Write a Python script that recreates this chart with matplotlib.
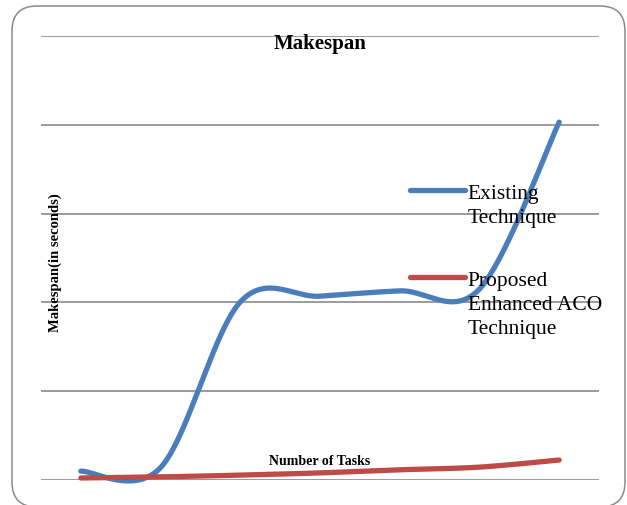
import numpy as np
import matplotlib.pyplot as plt
from matplotlib.patches import FancyBboxPatch
from matplotlib.transforms import IdentityTransform

plt.rcParams['font.family'] = ['Liberation Serif', 'DejaVu Serif']

tasks = [1, 2, 3, 4, 5, 6, 7]
existing = [2.0, 2.8, 40.1, 41.4, 42.6, 43.0, 80.6]
proposed = [0.45, 0.7, 1.1, 1.6, 2.3, 2.9, 4.5]
series_names = ['Existing\nTechnique', 'Proposed\nEnhanced ACO\nTechnique']
series_colors = ['#4a7ebb', '#be4b48']


def smooth(x, y, n=50):
    # spreadsheet-style smoothed line (Catmull-Rom as cubic Bezier)
    px = np.concatenate([[x[0]], x, [x[-1]]]).astype(float)
    py = np.concatenate([[y[0]], y, [y[-1]]]).astype(float)
    t = np.linspace(0, 1, n)
    xs, ys = [], []
    for i in range(1, len(x)):
        for p, out in ((px, xs), (py, ys)):
            p0, p1, p2, p3 = p[i - 1], p[i], p[i + 1], p[i + 2]
            c1 = p1 + (p2 - p0) / 6
            c2 = p2 - (p3 - p1) / 6
            seg = ((1 - t) ** 3 * p1 + 3 * (1 - t) ** 2 * t * c1
                   + 3 * (1 - t) * t ** 2 * c2 + t ** 3 * p2)
            out.extend(seg if i == 1 else seg[1:])
    return np.array(xs), np.array(ys)


fig = plt.figure(figsize=(6.27, 5.06), dpi=100)
ax = fig.add_axes([41 / 627, 25 / 506, 558 / 627, 444 / 506])

for vals, color in zip([existing, proposed], series_colors):
    sx, sy = smooth(tasks, vals)
    ax.plot(sx, sy, color=color, lw=3.8, solid_capstyle='round', zorder=3, clip_on=False)

ax.set_xlim(0.5, 7.5)
ax.set_ylim(0, 100)
ax.set_yticks(np.arange(0, 101, 20))
ax.set_xticks([])
ax.yaxis.grid(True, color='#8a8a8a', lw=1.2)
ax.tick_params(length=0, labelleft=False, labelbottom=False)
for s in ax.spines.values():
    s.set_visible(False)

ax.text(0.5, 0.973, 'Makespan', transform=ax.transAxes, ha='center', va='baseline',
        fontsize=15, fontweight='bold', zorder=4)
ax.text(0.5, 0.036, 'Number of Tasks', transform=ax.transAxes, ha='center', va='baseline',
        fontsize=10, fontweight='bold', zorder=4)
ax.text(0.026, 0.491, 'Makespan(in seconds)', transform=ax.transAxes, ha='center', va='center',
        rotation=90, fontsize=10.5, fontweight='bold', zorder=4)

# legend keys next to the first line of each label
key_y = [0.653, 0.457]
for name, color, ky in zip(series_names, series_colors, key_y):
    ax.plot([0.661, 0.760], [ky, ky], transform=ax.transAxes, color=color, lw=3.8,
            solid_capstyle='round', clip_on=False, zorder=3)
    ax.text(0.765, ky + 0.013, name, transform=ax.transAxes, ha='left', va='top',
            fontsize=15.5, linespacing=1.36, zorder=4)

frame = FancyBboxPatch((12, -2), 613, 501, boxstyle='round,pad=0,rounding_size=25',
                       transform=IdentityTransform(), facecolor='none',
                       edgecolor='#8a8a8a', lw=1.1)
fig.add_artist(frame)

fig.savefig('out.png', dpi=100)
